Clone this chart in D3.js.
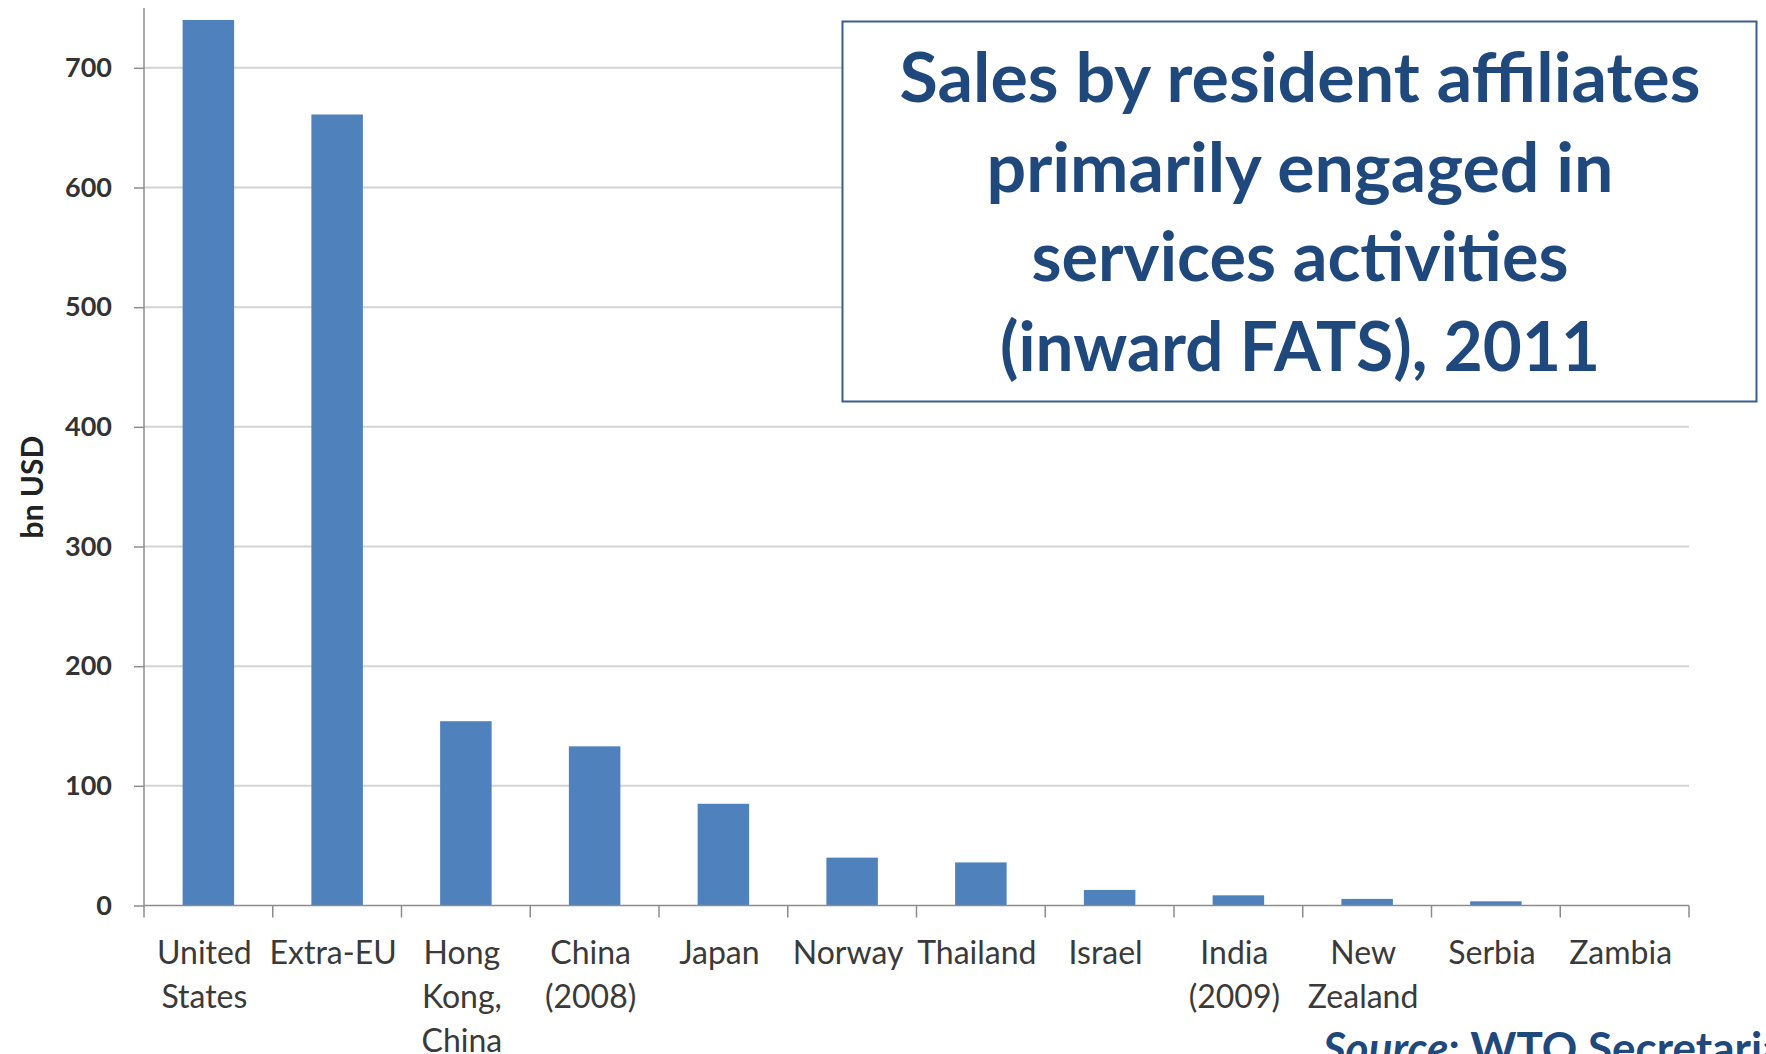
<!DOCTYPE html>
<html>
<head>
<meta charset="utf-8">
<script src="https://cdn.jsdelivr.net/npm/d3@7"></script>
<style>
body { margin: 0; background: #fff; }
text { font-family: Lato, "Open Sans", sans-serif; }
</style>
</head>
<body>
<svg id="chart" width="1766" height="1054"></svg>
<script>

// data (bn USD)
var countries = [ "United States", "Extra-EU", "Hong Kong, China", "China (2008)", "Japan", "Norway",
                  "Thailand", "Israel", "India (2009)", "New Zealand", "Serbia", "Zambia" ];
var labelLines = [ ["United", "States"], ["Extra-EU"], ["Hong", "Kong,", "China"], ["China", "(2008)"], ["Japan"], ["Norway"],
                   ["Thailand"], ["Israel"], ["India", "(2009)"], ["New", "Zealand"], ["Serbia"], ["Zambia"] ];
var sales = [ 740, 661, 154, 133, 85, 40, 36, 13, 8.5, 5.5, 3.5, 0.3 ];
var yTicks = [ 0, 100, 200, 300, 400, 500, 600, 700 ];
var titleLines = [ "Sales by resident affiliates", "primarily engaged in", "services activities", "(inward FATS), 2011" ];

var svg = d3.select("#chart");
var plotLeft = 144, plotRight = 1689, plotTop = 8, plotBottom = 905.5;

var x = d3.scaleBand().domain(countries).range([plotLeft, plotRight]).paddingInner(0.6).paddingOuter(0.3);
var y = d3.scaleLinear().domain([0, 750]).range([plotBottom, plotTop]);

// gridlines
svg.append("g").selectAll("line").data(yTicks.slice(1)).enter().append("line")
    .attr("x1", plotLeft).attr("x2", plotRight)
    .attr("y1", d => y(d)).attr("y2", d => y(d))
    .style("stroke", "#d4d4d4").style("stroke-width", 2);

// bars
svg.append("g").selectAll("rect").data(sales).enter().append("rect")
    .attr("x", (d, i) => x(countries[i]))
    .attr("width", x.bandwidth())
    .attr("y", d => y(d))
    .attr("height", d => y(0) - y(d))
    .style("fill", "#4f81bd");

// y axis
var yAxis = svg.append("g").attr("transform", "translate(" + plotLeft + ",0)")
    .call(d3.axisLeft(y).tickValues(yTicks).tickSize(10).tickPadding(22).tickSizeOuter(0));
yAxis.select(".domain").attr("d", "M0," + y(750) + "V" + y(0)).style("stroke", "#8c8c8c").style("stroke-width", 1.5);
yAxis.selectAll(".tick line").style("stroke", "#8c8c8c").style("stroke-width", 1.5);
yAxis.selectAll(".tick text").style("font-family", "Lato, sans-serif").style("font-size", "27px")
    .style("font-weight", "bold").style("fill", "#333");

// x axis line + category boundary ticks
var bounds = countries.map((c, i) => plotLeft + i * x.step());
bounds.push(plotRight);
svg.append("line").attr("x1", plotLeft).attr("x2", plotRight).attr("y1", y(0)).attr("y2", y(0))
    .style("stroke", "#8c8c8c").style("stroke-width", 1.5);
svg.append("g").selectAll("line").data(bounds).enter().append("line")
    .attr("x1", d => d).attr("x2", d => d).attr("y1", y(0)).attr("y2", y(0) + 12)
    .style("stroke", "#8c8c8c").style("stroke-width", 1.5);

// category labels
var lab = svg.append("g").selectAll("text").data(countries).enter().append("text")
    .attr("text-anchor", "middle")
    .style("font-size", "32px").style("fill", "#3a3a3a");
lab.each(function(c, i) {
    var t = d3.select(this);
    labelLines[i].forEach(function(s, j) {
        t.append("tspan").attr("x", x(c) + x.bandwidth() / 2 - 4).attr("y", 964 + j * 44).text(s);
    });
});

// y axis title
svg.append("text").attr("transform", "translate(43,487) rotate(-90)")
    .attr("text-anchor", "middle")
    .style("font-size", "30px").style("font-weight", "bold").style("fill", "#222")
    .text("bn USD");

// title box
svg.append("rect").attr("x", 842.5).attr("y", 21.5).attr("width", 914).attr("height", 380)
    .style("fill", "#fff").style("stroke", "#3a5f8f").style("stroke-width", 2);
var widths = [ 801, 627, 537, 600 ];
svg.append("g").selectAll("text").data(titleLines).enter().append("text")
    .attr("x", 1300).attr("y", (d, i) => 102 + i * 89.5)
    .attr("text-anchor", "middle")
    .attr("textLength", (d, i) => widths[i]).attr("lengthAdjust", "spacingAndGlyphs")
    .style("font-size", "68px").style("font-weight", "bold").style("fill", "#1f497d")
    .text(d => d);

// source note
var src = svg.append("text").attr("x", 1323).attr("y", 1064)
    .style("font-size", "44px").style("font-weight", "bold").style("fill", "#1f497d");
src.append("tspan").style("font-style", "italic").text("Source");
src.append("tspan").text(": WTO Secretariat");

</script>
</body>
</html>
